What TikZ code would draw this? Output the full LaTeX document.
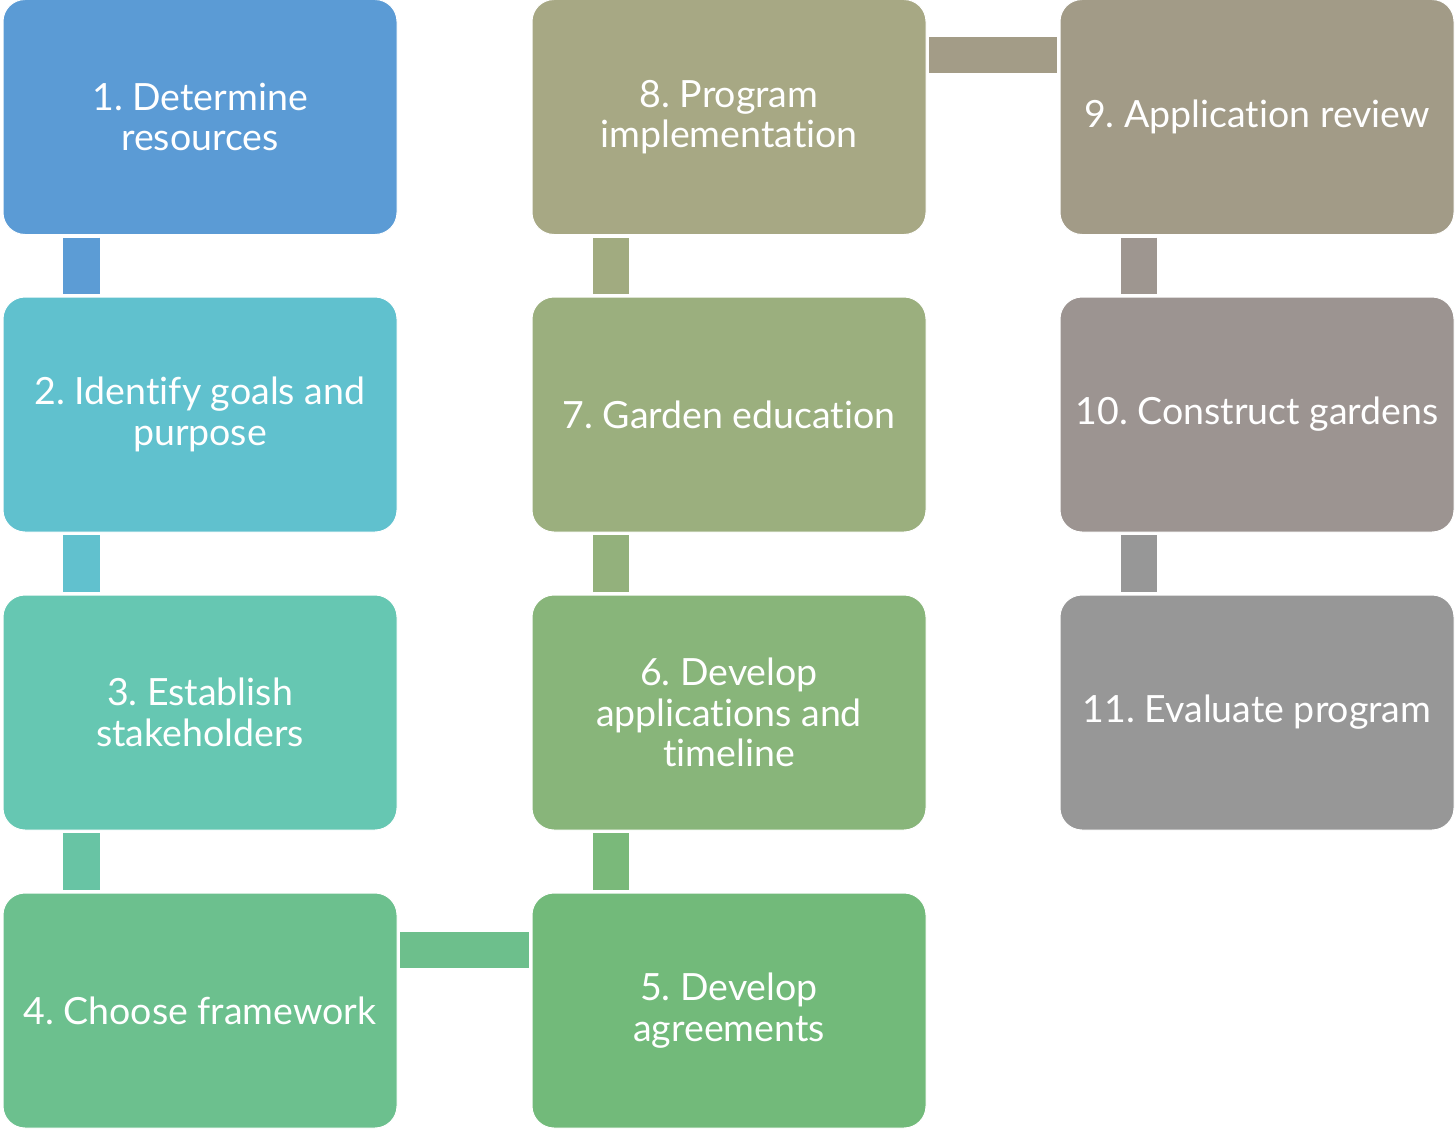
\documentclass[tikz,border=0pt]{standalone}
\usepackage{fontspec}
\setmainfont[Ligatures=NoCommon]{Lato}
\usetikzlibrary{calc}
\frenchspacing
\definecolor{b1}{RGB}{91,155,213}
\definecolor{b2}{RGB}{96,193,206}
\definecolor{b3}{RGB}{102,199,178}
\definecolor{b4}{RGB}{108,192,142}
\definecolor{b5}{RGB}{114,186,122}
\definecolor{b6}{RGB}{136,181,122}
\definecolor{b7}{RGB}{155,175,126}
\definecolor{b8}{RGB}{167,168,132}
\definecolor{b9}{RGB}{162,155,135}
\definecolor{b10}{RGB}{156,148,145}
\definecolor{b11}{RGB}{151,151,151}
\definecolor{k12}{RGB}{92,156,213}
\definecolor{k23}{RGB}{97,193,206}
\definecolor{k34}{RGB}{104,196,164}
\definecolor{k45}{RGB}{109,191,140}
\definecolor{k56}{RGB}{122,185,122}
\definecolor{k67}{RGB}{147,177,124}
\definecolor{k78}{RGB}{161,171,128}
\definecolor{k89}{RGB}{163,156,135}
\definecolor{k910}{RGB}{158,150,144}
\definecolor{k1011}{RGB}{151,151,151}
\tikzset{
  stepbox/.style={rectangle, rounded corners=22pt, draw=white, line width=1pt,
    minimum width=394pt, minimum height=235pt, inner sep=0pt, align=center,
    text=white, font=\fontsize{37.5}{40.5}\selectfont\frenchspacing},
  conn/.style={line width=36pt, line cap=butt, shorten <=2.5pt, shorten >=2.5pt}
}
\begin{document}
\begin{tikzpicture}[x=1pt,y=-1pt]
\useasboundingbox (0,0) rectangle (1455,1129);
\node[stepbox, fill=b1] (n1) at (200,117) {1. Determine\\resources};
\node[stepbox, fill=b2] (n2) at (200,414.5) {2. Identify goals and\\purpose};
\node[stepbox, fill=b3] (n3) at (200,712.5) {3. Establish\\stakeholders};
\node[stepbox, fill=b4] (n4) at (200,1010.5) {4. Choose framework};
\node[stepbox, fill=b5] (n5) at (729,1010.5) {5. Develop\\agreements};
\node[stepbox, fill=b6] (n6) at (729,712.5) {6. Develop\\applications and\\timeline};
\node[stepbox, fill=b7] (n7) at (729,414.5) {7. Garden education};
\node[stepbox, fill=b8] (n8) at (729,117) {8. Program\\implementation};
\node[stepbox, fill=b9] (n9) at (1257,117) {9. Application review};
\node[stepbox, fill=b10] (n10) at (1257,414.5) {10. Construct gardens};
\node[stepbox, fill=b11] (n11) at (1257,712.5) {11. Evaluate program};
% vertical connectors
\draw[conn, k12] ($(n1.south west)!0.2!(n1.south east)$) -- ($(n2.north west)!0.2!(n2.north east)$);
\draw[conn, k23] ($(n2.south west)!0.2!(n2.south east)$) -- ($(n3.north west)!0.2!(n3.north east)$);
\draw[conn, k34] ($(n3.south west)!0.2!(n3.south east)$) -- ($(n4.north west)!0.2!(n4.north east)$);
\draw[conn, k56] ($(n5.north west)!0.2!(n5.north east)$) -- ($(n6.south west)!0.2!(n6.south east)$);
\draw[conn, k67] ($(n6.north west)!0.2!(n6.north east)$) -- ($(n7.south west)!0.2!(n7.south east)$);
\draw[conn, k78] ($(n7.north west)!0.2!(n7.north east)$) -- ($(n8.south west)!0.2!(n8.south east)$);
\draw[conn, k910] ($(n9.south west)!0.2!(n9.south east)$) -- ($(n10.north west)!0.2!(n10.north east)$);
\draw[conn, k1011] ($(n10.south west)!0.2!(n10.south east)$) -- ($(n11.north west)!0.2!(n11.north east)$);
% horizontal connectors
\draw[conn, k45] ($(n4.north east)!0.245!(n4.south east)$) -- ($(n5.north west)!0.245!(n5.south west)$);
\draw[conn, k89] ($(n8.north east)!0.237!(n8.south east)$) -- ($(n9.north west)!0.237!(n9.south west)$);
\end{tikzpicture}
\end{document}
